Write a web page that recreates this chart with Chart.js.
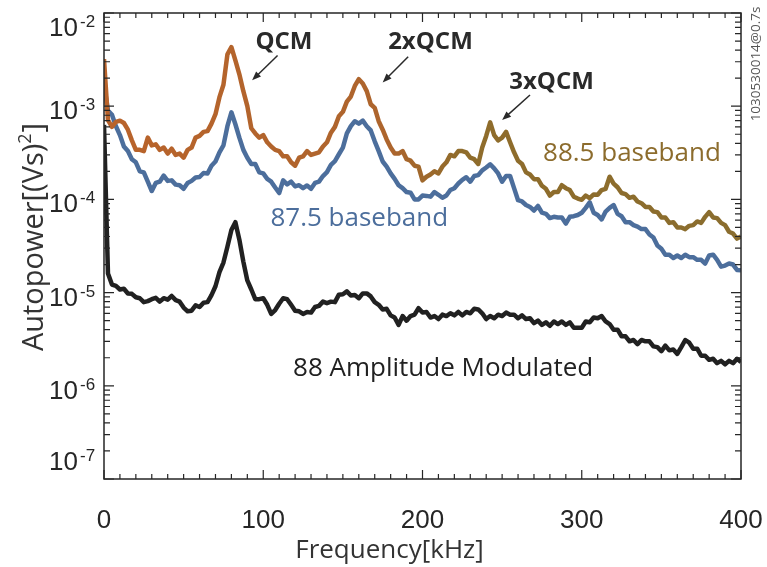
<!DOCTYPE html>
<html>
<head>
<meta charset="utf-8">
<script src="https://cdn.jsdelivr.net/npm/chart.js@4.4.1/dist/chart.umd.min.js"></script>
<style>
  html, body { margin: 0; padding: 0; background: #fff; }
  canvas { display: block; }
</style>
</head>
<body>
<canvas id="spectrum" width="767" height="567"></canvas>
<script>
// frequency axis, kHz
const freq = [
  0, 2.5, 5, 7.5, 10, 12.5, 15, 17.5, 20, 22.5,
  25, 27.5, 30, 32.5, 35, 37.5, 40, 42.5, 45, 47.5,
  50, 52.5, 55, 57.5, 60, 62.5, 65, 67.5, 70, 72.5,
  75, 77.5, 80, 82.5, 85, 87.5, 90, 92.5, 95, 97.5,
  100, 102.5, 105, 107.5, 110, 112.5, 115, 117.5, 120, 122.5,
  125, 127.5, 130, 132.5, 135, 137.5, 140, 142.5, 145, 147.5,
  150, 152.5, 155, 157.5, 160, 162.5, 165, 167.5, 170, 172.5,
  175, 177.5, 180, 182.5, 185, 187.5, 190, 192.5, 195, 197.5,
  200, 202.5, 205, 207.5, 210, 212.5, 215, 217.5, 220, 222.5,
  225, 227.5, 230, 232.5, 235, 237.5, 240, 242.5, 245, 247.5,
  250, 252.5, 255, 257.5, 260, 262.5, 265, 267.5, 270, 272.5,
  275, 277.5, 280, 282.5, 285, 287.5, 290, 292.5, 295, 297.5,
  300, 302.5, 305, 307.5, 310, 312.5, 315, 317.5, 320, 322.5,
  325, 327.5, 330, 332.5, 335, 337.5, 340, 342.5, 345, 347.5,
  350, 352.5, 355, 357.5, 360, 362.5, 365, 367.5, 370, 372.5,
  375, 377.5, 380, 382.5, 385, 387.5, 390, 392.5, 395, 397.5,
  400
];

// autopower [(Vs)^2], 88.5 GHz baseband channel
const base885 = [
  3.2e-3, 7.1e-4, 6.0e-4, 6.8e-4, 7.0e-4, 6.6e-4, 5.6e-4, 4.3e-4, 3.4e-4, 3.4e-4,
  3.3e-4, 4.6e-4, 3.8e-4, 3.9e-4, 3.4e-4, 3.6e-4, 3.1e-4, 3.5e-4, 3.0e-4, 3.1e-4,
  2.8e-4, 3.4e-4, 3.6e-4, 4.6e-4, 4.8e-4, 5.3e-4, 5.4e-4, 6.5e-4, 8.2e-4, 1.25e-3,
  1.7e-3, 3.6e-3, 4.3e-3, 3.1e-3, 2.2e-3, 1.45e-3, 1.0e-3, 5.8e-4, 5.1e-4, 4.6e-4,
  4.9e-4, 4.1e-4, 3.7e-4, 3.4e-4, 3.3e-4, 2.9e-4, 2.9e-4, 2.5e-4, 2.3e-4, 2.8e-4,
  2.9e-4, 3.3e-4, 3.0e-4, 3.1e-4, 3.2e-4, 3.7e-4, 4.1e-4, 5.2e-4, 6.0e-4, 7.8e-4,
  8.7e-4, 1.12e-3, 1.27e-3, 1.65e-3, 1.95e-3, 1.75e-3, 1.45e-3, 1.05e-3, 9.6e-4, 6.9e-4,
  5.6e-4, 4.4e-4, 3.6e-4, 3.1e-4, 3.1e-4, 3.3e-4, 2.7e-4, 2.6e-4, 2.3e-4, 2.25e-4,
  1.6e-4, 1.75e-4, 1.85e-4, 2.0e-4, 1.9e-4, 2.25e-4, 2.5e-4, 3.0e-4, 2.9e-4, 3.3e-4,
  3.3e-4, 3.2e-4, 2.8e-4, 2.7e-4, 2.4e-4, 3.6e-4, 4.8e-4, 6.7e-4, 4.9e-4, 4.3e-4,
  4.6e-4, 5.3e-4, 4.1e-4, 3.2e-4, 2.6e-4, 2.4e-4, 1.95e-4, 1.85e-4, 1.65e-4, 1.65e-4,
  1.4e-4, 1.3e-4, 1.1e-4, 1.2e-4, 1.2e-4, 1.42e-4, 1.32e-4, 1.26e-4, 1.07e-4, 1.02e-4,
  9.9e-5, 1.1e-4, 1.03e-4, 1.13e-4, 1.12e-4, 1.26e-4, 1.3e-4, 1.75e-4, 1.48e-4, 1.35e-4,
  1.17e-4, 1.14e-4, 1.04e-4, 1.07e-4, 9.5e-5, 9.1e-5, 8.3e-5, 8.3e-5, 7.4e-5, 7.3e-5,
  6.4e-5, 6.4e-5, 5.6e-5, 5.7e-5, 5.0e-5, 5.0e-5, 4.8e-5, 5.2e-5, 5.3e-5, 5.8e-5,
  5.6e-5, 6.5e-5, 7.3e-5, 6.4e-5, 6.3e-5, 5.6e-5, 5.3e-5, 4.5e-5, 4.3e-5, 3.8e-5,
  4.0e-5
];

// 87.5 GHz baseband channel
const base875 = [
  1.7e-3, 9.0e-4, 8.1e-4, 6.1e-4, 4.9e-4, 3.7e-4, 3.3e-4, 2.7e-4, 2.5e-4, 2.0e-4,
  1.95e-4, 1.55e-4, 1.23e-4, 1.5e-4, 1.55e-4, 1.8e-4, 1.58e-4, 1.6e-4, 1.44e-4, 1.42e-4,
  1.3e-4, 1.5e-4, 1.58e-4, 1.72e-4, 1.74e-4, 1.92e-4, 1.9e-4, 2.3e-4, 2.55e-4, 3.2e-4,
  3.8e-4, 6.1e-4, 8.6e-4, 6.4e-4, 4.6e-4, 3.4e-4, 2.8e-4, 2.4e-4, 2.4e-4, 1.95e-4,
  1.9e-4, 1.66e-4, 1.55e-4, 1.34e-4, 1.17e-4, 1.6e-4, 1.45e-4, 1.55e-4, 1.38e-4, 1.42e-4,
  1.32e-4, 1.41e-4, 1.3e-4, 1.5e-4, 1.55e-4, 1.78e-4, 1.96e-4, 2.35e-4, 2.58e-4, 3.05e-4,
  3.6e-4, 5.1e-4, 6.1e-4, 6.9e-4, 6.5e-4, 7.0e-4, 6.1e-4, 5.5e-4, 4.2e-4, 3.3e-4,
  2.55e-4, 2.25e-4, 1.9e-4, 1.66e-4, 1.42e-4, 1.32e-4, 1.2e-4, 1.18e-4, 1.0e-4, 1.0e-4,
  1.1e-4, 1.09e-4, 1.07e-4, 1.2e-4, 1.12e-4, 1.04e-4, 1.1e-4, 1.26e-4, 1.32e-4, 1.48e-4,
  1.62e-4, 1.73e-4, 1.55e-4, 1.78e-4, 1.82e-4, 2.05e-4, 2.2e-4, 2.38e-4, 2.15e-4, 1.9e-4,
  1.55e-4, 1.78e-4, 1.78e-4, 1.32e-4, 9.8e-5, 9.5e-5, 8.7e-5, 8.3e-5, 7.6e-5, 8.5e-5,
  7.2e-5, 7.0e-5, 6.3e-5, 6.5e-5, 6.4e-5, 6.4e-5, 5.5e-5, 6.5e-5, 6.6e-5, 6.8e-5,
  7.2e-5, 8.1e-5, 9.3e-5, 7.2e-5, 6.8e-5, 6.1e-5, 7.4e-5, 8.1e-5, 8.7e-5, 7.0e-5,
  6.6e-5, 5.7e-5, 5.7e-5, 5.3e-5, 5.1e-5, 4.8e-5, 4.8e-5, 4.2e-5, 3.9e-5, 3.2e-5,
  2.95e-5, 2.55e-5, 2.55e-5, 2.35e-5, 2.5e-5, 2.35e-5, 2.55e-5, 2.4e-5, 2.4e-5, 2.25e-5,
  2.25e-5, 2.05e-5, 2.5e-5, 2.55e-5, 2.25e-5, 1.9e-5, 1.95e-5, 2.05e-5, 2.0e-5, 1.75e-5,
  1.74e-5
];

// 88 GHz amplitude modulated channel
const am88 = [
  6.3e-4, 1.6e-5, 1.22e-5, 1.18e-5, 1.08e-5, 1.1e-5, 9.8e-6, 9.7e-6, 8.9e-6, 8.7e-6,
  7.9e-6, 8.1e-6, 8.5e-6, 8.8e-6, 8.0e-6, 8.7e-6, 8.4e-6, 9.2e-6, 8.3e-6, 8.0e-6,
  6.9e-6, 6.3e-6, 6.4e-6, 7.3e-6, 7.0e-6, 7.8e-6, 7.9e-6, 9.4e-6, 1.17e-5, 1.66e-5,
  2.1e-5, 3.1e-5, 4.7e-5, 5.7e-5, 3.7e-5, 2.15e-5, 1.35e-5, 1.08e-5, 8.5e-6, 8.5e-6,
  8.7e-6, 7.4e-6, 5.9e-6, 6.5e-6, 7.6e-6, 8.7e-6, 8.5e-6, 7.4e-6, 6.4e-6, 6.3e-6,
  5.9e-6, 6.2e-6, 6.1e-6, 7.0e-6, 7.2e-6, 8.0e-6, 7.7e-6, 8.0e-6, 7.9e-6, 9.5e-6,
  9.6e-6, 1.03e-5, 9.3e-6, 9.4e-6, 8.7e-6, 9.8e-6, 9.8e-6, 9.1e-6, 7.9e-6, 7.4e-6,
  6.6e-6, 6.7e-6, 5.7e-6, 5.4e-6, 4.5e-6, 5.6e-6, 5.0e-6, 5.6e-6, 5.8e-6, 6.8e-6,
  6.1e-6, 6.2e-6, 5.4e-6, 5.6e-6, 5.2e-6, 5.8e-6, 5.6e-6, 6.0e-6, 5.7e-6, 6.2e-6,
  5.7e-6, 6.2e-6, 6.0e-6, 6.7e-6, 6.6e-6, 6.0e-6, 5.2e-6, 5.6e-6, 5.3e-6, 5.8e-6,
  5.6e-6, 6.1e-6, 5.8e-6, 5.8e-6, 5.3e-6, 5.7e-6, 5.2e-6, 5.3e-6, 4.7e-6, 5.0e-6,
  4.5e-6, 4.8e-6, 4.4e-6, 4.9e-6, 4.6e-6, 4.9e-6, 4.5e-6, 4.8e-6, 4.2e-6, 4.2e-6,
  4.2e-6, 4.9e-6, 4.8e-6, 5.4e-6, 5.3e-6, 5.6e-6, 4.9e-6, 4.6e-6, 4.0e-6, 4.0e-6,
  3.4e-6, 3.4e-6, 3.0e-6, 3.1e-6, 2.8e-6, 3.1e-6, 3.0e-6, 3.0e-6, 2.65e-6, 2.6e-6,
  2.35e-6, 2.7e-6, 2.4e-6, 2.45e-6, 2.2e-6, 2.6e-6, 3.1e-6, 2.9e-6, 2.5e-6, 2.5e-6,
  2.1e-6, 2.1e-6, 1.9e-6, 1.95e-6, 1.75e-6, 1.85e-6, 1.7e-6, 1.85e-6, 1.75e-6, 1.95e-6,
  1.8e-6
];

const xTicks = [0, 100, 200, 300, 400];
const yTicks = [1e-7, 1e-6, 1e-5, 1e-4, 1e-3, 1e-2];

const INK = '#262626';
const ORANGE = '#b5622c';
const OLIVE = '#8c6c2d';
const BLUE = '#4c6e9c';
const BLACK = '#212121';
const SANS = '"Open Sans", "Noto Sans", sans-serif';
const HELV = '"Liberation Sans", Arial, sans-serif';

// text notes, anchored in data coordinates (kHz, (Vs)^2)
const peakNotes = [
  { text: 'QCM',   at: [113, 4.9e-3], from: [109, 3.5e-3],   to: [93, 1.9e-3] },
  { text: '2xQCM', at: [205, 4.9e-3], from: [191, 3.4e-3],   to: [175, 1.8e-3] },
  { text: '3xQCM', at: [281, 1.8e-3], from: [267.5, 1.32e-3], to: [250, 7.1e-4] }
];
const seriesNotes = [
  { text: '88.5 baseband',          at: [275.7, 2.58e-4], color: OLIVE },
  { text: '87.5 baseband',          at: [104.5, 5.2e-5],  color: BLUE },
  { text: '88 Amplitude Modulated', at: [118.7, 1.27e-6], color: BLACK }
];

const toPoints = vals => freq.map((f, i) => ({ x: f, y: vals[i] }));

// orange at low frequency fading to brown above ~200 kHz
function baseband885Color(context) {
  const chart = context.chart;
  if (!chart.chartArea) return ORANGE;
  const x = chart.scales.x;
  const g = chart.ctx.createLinearGradient(x.getPixelForValue(0), 0, x.getPixelForValue(400), 0);
  g.addColorStop(0, '#b9632b');
  g.addColorStop(0.45, '#ad652d');
  g.addColorStop(0.56, '#8f6c2b');
  g.addColorStop(1, '#8a6d2e');
  return g;
}

function textAt(ctx, str, x, y, font, color, align) {
  ctx.font = font;
  ctx.fillStyle = color;
  ctx.textAlign = align || 'left';
  ctx.fillText(str, x, y);
}

const decor = {
  id: 'decor',
  afterDatasetsDraw(chart) {
    const { ctx, chartArea: a, scales: { x, y } } = chart;
    ctx.save();

    // box
    ctx.strokeStyle = INK;
    ctx.lineWidth = 1.5;
    ctx.strokeRect(a.left, a.top, a.right - a.left, a.bottom - a.top);

    // inward ticks on all four sides
    ctx.lineWidth = 1.2;
    ctx.beginPath();
    for (let f = 0; f <= 400; f += 10) {
      const px = x.getPixelForValue(f);
      const len = f % 100 === 0 ? 9 : 5;
      ctx.moveTo(px, a.bottom); ctx.lineTo(px, a.bottom - len);
      ctx.moveTo(px, a.top); ctx.lineTo(px, a.top + len);
    }
    for (let e = -7; e <= -2; e++) {
      for (let m = 1; m <= 9; m++) {
        if (e === -2 && m > 1) break;
        const py = y.getPixelForValue(m * Math.pow(10, e));
        const len = m === 1 ? 10 : 6;
        ctx.moveTo(a.left, py); ctx.lineTo(a.left + len, py);
        ctx.moveTo(a.right, py); ctx.lineTo(a.right - len, py);
      }
    }
    ctx.stroke();

    // y tick labels 10^n
    ctx.textBaseline = 'alphabetic';
    yTicks.forEach(v => {
      const py = y.getPixelForValue(v);
      const mid = Math.min(Math.max(py + 4, a.top + 14), a.bottom - 18);
      const base = mid + 9;
      textAt(ctx, '10', a.left - 26, base, '26px ' + HELV, INK, 'right');
      textAt(ctx, String(Math.round(Math.log10(v))), a.left - 24, base - 9, '17px ' + HELV, INK, 'left');
    });

    // x tick labels
    xTicks.forEach(f => {
      textAt(ctx, String(f), x.getPixelForValue(f), a.bottom + 49, '26px ' + HELV, INK, 'center');
    });

    // axis titles
    textAt(ctx, 'Frequency[kHz]', (a.left + a.right) / 2 - 33, a.bottom + 79, '26px ' + SANS, '#333', 'center');

    ctx.save();
    ctx.translate(a.left - 61, 237);
    ctx.rotate(-Math.PI / 2);
    ctx.font = '29px ' + SANS;
    const p1 = 'Autopower[(Vs)', p3 = ']';
    const w1 = ctx.measureText(p1).width;
    const w3 = ctx.measureText(p3).width;
    ctx.font = '18px ' + SANS;
    const w2 = ctx.measureText('2').width + 1;
    const cx = -(w1 + w2 + w3) / 2;
    textAt(ctx, p1, cx, 0, '29px ' + SANS, '#333', 'left');
    textAt(ctx, '2', cx + w1, -12, '18px ' + SANS, '#333', 'left');
    textAt(ctx, p3, cx + w1 + w2, 0, '29px ' + SANS, '#333', 'left');
    ctx.restore();

    // shot id along the right edge
    ctx.save();
    ctx.translate(a.right + 19, 64);
    ctx.rotate(-Math.PI / 2);
    textAt(ctx, '1030530014@0.7s', 0, 0, '13.5px ' + SANS, '#555', 'center');
    ctx.restore();

    // peak names with arrows
    peakNotes.forEach(n => {
      ctx.textBaseline = 'middle';
      textAt(ctx, n.text, x.getPixelForValue(n.at[0]), y.getPixelForValue(n.at[1]), 'bold 24px ' + SANS, '#2a2a2a', 'center');
      const x0 = x.getPixelForValue(n.from[0]), y0 = y.getPixelForValue(n.from[1]);
      const x1 = x.getPixelForValue(n.to[0]), y1 = y.getPixelForValue(n.to[1]);
      const ang = Math.atan2(y1 - y0, x1 - x0);
      ctx.strokeStyle = '#2a2a2a';
      ctx.lineWidth = 1.5;
      ctx.beginPath();
      ctx.moveTo(x0, y0);
      ctx.lineTo(x1 - 4 * Math.cos(ang), y1 - 4 * Math.sin(ang));
      ctx.stroke();
      ctx.fillStyle = '#2a2a2a';
      ctx.beginPath();
      ctx.moveTo(x1, y1);
      ctx.lineTo(x1 - 9 * Math.cos(ang) + 3.5 * Math.sin(ang), y1 - 9 * Math.sin(ang) - 3.5 * Math.cos(ang));
      ctx.lineTo(x1 - 9 * Math.cos(ang) - 3.5 * Math.sin(ang), y1 - 9 * Math.sin(ang) + 3.5 * Math.cos(ang));
      ctx.closePath();
      ctx.fill();
    });

    // channel labels
    ctx.textBaseline = 'alphabetic';
    seriesNotes.forEach(n => {
      textAt(ctx, n.text, x.getPixelForValue(n.at[0]), y.getPixelForValue(n.at[1]), '26px ' + SANS, n.color, 'left');
    });

    ctx.restore();
  }
};

const lineStyle = { borderWidth: 4.5, pointRadius: 0, tension: 0, borderJoinStyle: 'round', fill: false };

new Chart(document.getElementById('spectrum'), {
  type: 'line',
  data: {
    datasets: [
      { label: '88.5 baseband', data: toPoints(base885), borderColor: baseband885Color, ...lineStyle },
      { label: '87.5 baseband', data: toPoints(base875), borderColor: BLUE, ...lineStyle },
      { label: '88 Amplitude Modulated', data: toPoints(am88), borderColor: BLACK, ...lineStyle }
    ]
  },
  options: {
    responsive: false,
    devicePixelRatio: 1,
    animation: false,
    layout: { padding: { top: 13, right: 26, left: 0, bottom: 0 } },
    plugins: { legend: { display: false }, tooltip: { enabled: false } },
    scales: {
      x: {
        type: 'linear', min: 0, max: 400,
        ticks: { display: false },
        grid: { display: false },
        border: { display: false },
        afterFit: s => { s.height = 88; }
      },
      y: {
        type: 'logarithmic', min: 1e-7, max: 1e-2,
        ticks: { display: false },
        grid: { display: false },
        border: { display: false },
        afterFit: s => { s.width = 104; }
      }
    }
  },
  plugins: [decor]
});
</script>
</body>
</html>
